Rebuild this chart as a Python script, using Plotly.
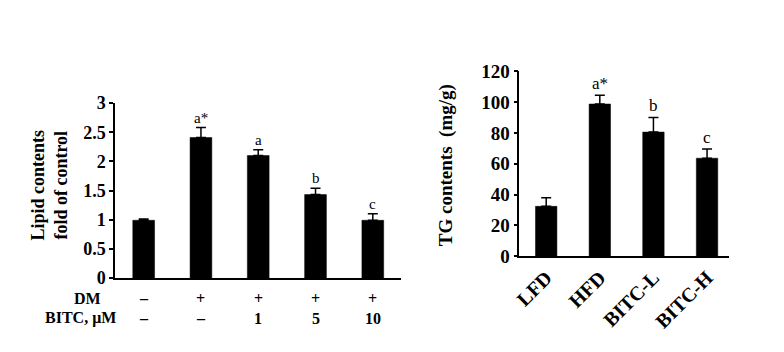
import plotly.graph_objects as go

# Left panel data
left_cats = [0, 1, 2, 3, 4]
left_vals = [0.99, 2.41, 2.10, 1.43, 0.99]
left_err = [0.02, 0.17, 0.10, 0.11, 0.11]
left_letters = ["", "a*", "a", "b", "c"]
dm_row = ["–", "+", "+", "+", "+"]
bitc_row = ["–", "–", "1", "5", "10"]

# Right panel data
right_cats = ["LFD", "HFD", "BITC-L", "BITC-H"]
right_vals = [32.4, 98.7, 80.5, 63.6]
right_err = [5.5, 5.7, 9.5, 5.9]
right_letters = ["", "a*", "b", "c"]

SERIF = "Liberation Serif"
W, H = 784, 352

fig = go.Figure()

fig.add_trace(go.Bar(
    x=left_cats, y=left_vals, width=0.38,
    marker=dict(color="black", line=dict(color="black", width=0.5)),
    error_y=dict(type="data", symmetric=False, array=left_err,
                 arrayminus=[0]*len(left_err), color="black",
                 thickness=1.5, width=5),
    xaxis="x", yaxis="y", showlegend=False,
))

fig.add_trace(go.Bar(
    x=right_cats, y=right_vals, width=0.40,
    marker=dict(color="black", line=dict(color="black", width=0.5)),
    error_y=dict(type="data", symmetric=False, array=right_err,
                 arrayminus=[0]*len(right_err), color="black",
                 thickness=1.5, width=5),
    xaxis="x2", yaxis="y2", showlegend=False,
))

ann = []
for c, v, e, t in zip(left_cats, left_vals, left_err, left_letters):
    if t:
        ann.append(dict(x=c, y=v + e, xref="x", yref="y", text=t,
                        showarrow=False, yanchor="bottom", yshift=0,
                        font=dict(family=SERIF, size=15, color="black")))
for c, v, e, t in zip(right_cats, right_vals, right_err, right_letters):
    if t:
        ann.append(dict(x=c, y=v + e, xref="x2", yref="y2", text=t,
                        showarrow=False, yanchor="bottom", yshift=0,
                        font=dict(family=SERIF, size=17, color="black")))

row_font = dict(family=SERIF, size=16, color="black")
DM_Y = 1 - 307 / H
BITC_Y = 1 - 328 / H
for c, s in zip(left_cats, dm_row):
    ann.append(dict(x=c, y=DM_Y, xref="x", yref="paper", text="<b>%s</b>" % s,
                    showarrow=False, yanchor="middle", font=row_font))
for c, s in zip(left_cats, bitc_row):
    ann.append(dict(x=c, y=BITC_Y, xref="x", yref="paper", text="<b>%s</b>" % s,
                    showarrow=False, yanchor="middle", font=row_font))
ann.append(dict(x=81 / W, y=DM_Y, xref="paper", yref="paper", text="<b>DM</b>",
                showarrow=False, xanchor="center", yanchor="middle", font=row_font))
ann.append(dict(x=74 / W, y=BITC_Y, xref="paper", yref="paper", text="<b>BITC, μM</b>",
                showarrow=False, xanchor="center", yanchor="middle", font=row_font))

# axis titles
ann.append(dict(x=43 / W, y=1 - 186 / H, xref="paper", yref="paper",
                text="<b>Lipid contents<br>fold of control</b>", textangle=-90,
                showarrow=False, xanchor="center", yanchor="middle",
                font=dict(family=SERIF, size=18, color="black")))
ann.append(dict(x=443 / W, y=1 - 165 / H, xref="paper", yref="paper",
                text="<b>TG contents  (mg/g)</b>", textangle=-90,
                showarrow=False, xanchor="center", yanchor="middle",
                font=dict(family=SERIF, size=19, color="black")))

axis_common = dict(showline=True, linecolor="black", linewidth=1.5,
                   showgrid=False, zeroline=False)

fig.update_layout(
    width=W, height=H, margin=dict(l=0, r=0, t=0, b=0),
    paper_bgcolor="white", plot_bgcolor="white",
    bargap=0.6,
    xaxis=dict(domain=[109 / W, 398 / W], range=[-0.5, 4.5], showticklabels=False,
               ticks="", anchor="y", **axis_common),
    yaxis=dict(domain=[1 - 285 / H, 1 - 99 / H], range=[0, 3], dtick=0.5,
               ticks="outside", ticklen=4, tickwidth=1.5, tickcolor="black",
               tickfont=dict(family=SERIF, size=18, color="black"),
               tickformat="~g", anchor="x", **axis_common),
    xaxis2=dict(domain=[517 / W, 728 / W], range=[-0.5, 3.4], ticks="",
                tickangle=-45, tickfont=dict(family=SERIF, size=20, color="black"),
                tickvals=right_cats, ticktext=["<b>%s</b>" % c for c in right_cats],
                anchor="y2", **axis_common),
    yaxis2=dict(domain=[1 - 262 / H, 1 - 65 / H], range=[0, 120], dtick=20,
                ticks="outside", ticklen=4, tickwidth=1.5, tickcolor="black",
                tickfont=dict(family=SERIF, size=19, color="black"),
                anchor="x2", **axis_common),
    annotations=ann,
)

# bold tick labels on y axes
fig.update_yaxes(tickprefix="<b>", ticksuffix="</b>")

fig.write_html("out.html")
